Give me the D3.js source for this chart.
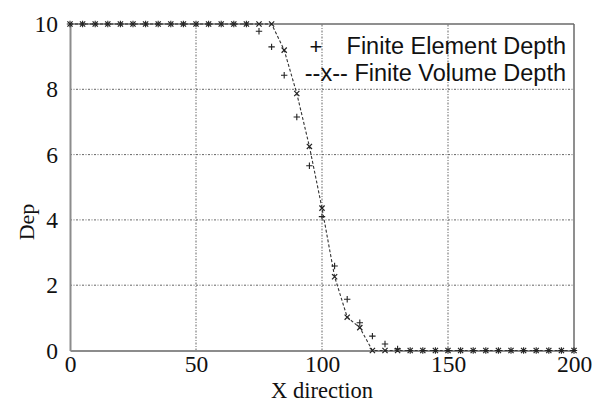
<!DOCTYPE html>
<html><head><meta charset="utf-8">
<script src="https://cdn.jsdelivr.net/npm/d3@7"></script>
<style>body{margin:0;background:#fff}svg{display:block}</style>
</head><body>
<svg id="c" width="597" height="403"></svg>
<script>
const xTicks = [0, 50, 100, 150, 200];
const yTicks = [0, 2, 4, 6, 8, 10];
const fvX = [0,5,10,15,20,25,30,35,40,45,50,55,60,65,70,75,80,85,90,95,100,105,110,115,120,125,130,135,140,145,150,155,160,165,170,175,180,185,190,195,200];
const fvY = [10,10,10,10,10,10,10,10,10,10,10,10,10,10,10,10,10,9.2,7.87,6.25,4.36,2.26,1.02,0.70,0,0,0,0,0,0,0,0,0,0,0,0,0,0,0,0,0];
const feX = [0,5,10,15,20,25,30,35,40,45,50,55,60,65,70,75,80,85,90,95,100,105,110,115,120,125,130,135,140,145,150,155,160,165,170,175,180,185,190,195,200];
const feY = [10,10,10,10,10,10,10,10,10,10,10,10,10,10,10,9.78,9.3,8.43,7.15,5.66,4.1,2.59,1.57,0.85,0.44,0.2,0.05,0,0,0,0,0,0,0,0,0,0,0,0,0,0];
const legendLabels = ["Finite Element Depth", "--x-- Finite Volume Depth"];

const svg = d3.select("#c");
const x = d3.scaleLinear().domain([0, 200]).range([70, 574]);
const y = d3.scaleLinear().domain([0, 10]).range([350.5, 24]);

// grid
const g = svg.append("g");
g.selectAll(".vg").data(xTicks.filter(d => d > 0 && d < 200)).enter().append("line")
  .attr("x1", d => x(d)).attr("x2", d => x(d)).attr("y1", y(0)).attr("y2", y(10))
  .attr("stroke", "#555").attr("stroke-width", 0.9).attr("stroke-dasharray", "2,1.5,1,1.5");
g.selectAll(".hg").data(yTicks.filter(d => d > 0 && d < 10)).enter().append("line")
  .attr("x1", x(0)).attr("x2", x(200)).attr("y1", d => y(d)).attr("y2", d => y(d))
  .attr("stroke", "#555").attr("stroke-width", 0.9).attr("stroke-dasharray", "2,1.5,1,1.5");

// frame top/right
svg.append("line").attr("x1", x(0)).attr("x2", x(200)).attr("y1", y(10)).attr("y2", y(10)).attr("stroke", "#6a6a6a").attr("stroke-width", 1.5);
svg.append("line").attr("x1", x(200)).attr("x2", x(200)).attr("y1", y(10)).attr("y2", y(0)).attr("stroke", "#6a6a6a").attr("stroke-width", 1.5);

// axes
const xAxis = svg.append("g").attr("transform", `translate(0,${y(0)})`)
  .call(d3.axisBottom(x).tickValues(xTicks).tickSize(0).tickPadding(5).tickFormat(d3.format("d")));
const yAxis = svg.append("g").attr("transform", `translate(${x(0)},0)`)
  .call(d3.axisLeft(y).tickValues(yTicks).tickSize(0).tickPadding(12).tickFormat(d3.format("d")));
[xAxis, yAxis].forEach(a => {
  a.select(".domain").attr("stroke", "#8c8c8c").attr("stroke-width", 2);
  a.selectAll("text").attr("font-family", "'Liberation Serif','Times New Roman',serif").attr("font-size", 23.5).attr("fill", "#111");
});
xAxis.selectAll("text").attr("dy", "0.71em");

// FV dashed line
const fvPts = fvX.map((d, i) => [d, fvY[i]]);
svg.append("path").datum(fvPts)
  .attr("d", d3.line().x(d => x(d[0])).y(d => y(d[1])))
  .attr("fill", "none").attr("stroke", "#333").attr("stroke-width", 1.1).attr("stroke-dasharray", "3,2");
// FV x markers
const s = 2.6;
svg.append("g").selectAll("path").data(fvPts).enter().append("path")
  .attr("d", d => { const cx = x(d[0]), cy = y(d[1]); return `M${cx-s},${cy-s}L${cx+s},${cy+s}M${cx-s},${cy+s}L${cx+s},${cy-s}`; })
  .attr("stroke", "#222").attr("stroke-width", 1.2);
// FE + markers
const feP = feX.map((d, i) => [d, feY[i]]);
const p = 3.2;
svg.append("g").selectAll("path").data(feP).enter().append("path")
  .attr("d", d => { const cx = x(d[0]), cy = y(d[1]); return `M${cx-p},${cy}L${cx+p},${cy}M${cx},${cy-p}L${cx},${cy+p}`; })
  .attr("stroke", "#222").attr("stroke-width", 1.1);

// legend
const lf = "'Liberation Sans',Arial,sans-serif";
svg.append("text").attr("x", 316).attr("y", 54).attr("text-anchor", "middle").attr("font-family", lf).attr("font-size", 22).attr("fill", "#111").text("+");
svg.selectAll(".leg").data(legendLabels).enter().append("text")
  .attr("x", 566).attr("y", (d, i) => 54 + i * 27).attr("text-anchor", "end")
  .attr("font-family", lf).attr("font-size", 23.5).attr("fill", "#111").text(d => d);

// axis titles
const sf = "'Liberation Serif','Times New Roman',serif";
svg.append("text").attr("x", 322).attr("y", 398).attr("text-anchor", "middle").attr("font-family", sf).attr("font-size", 22.5).attr("fill", "#111").text("X direction");
svg.append("text").attr("transform", "translate(34,222) rotate(-90)").attr("text-anchor", "middle").attr("font-family", sf).attr("font-size", 22).attr("fill", "#111").text("Dep");
</script>
</body></html>
